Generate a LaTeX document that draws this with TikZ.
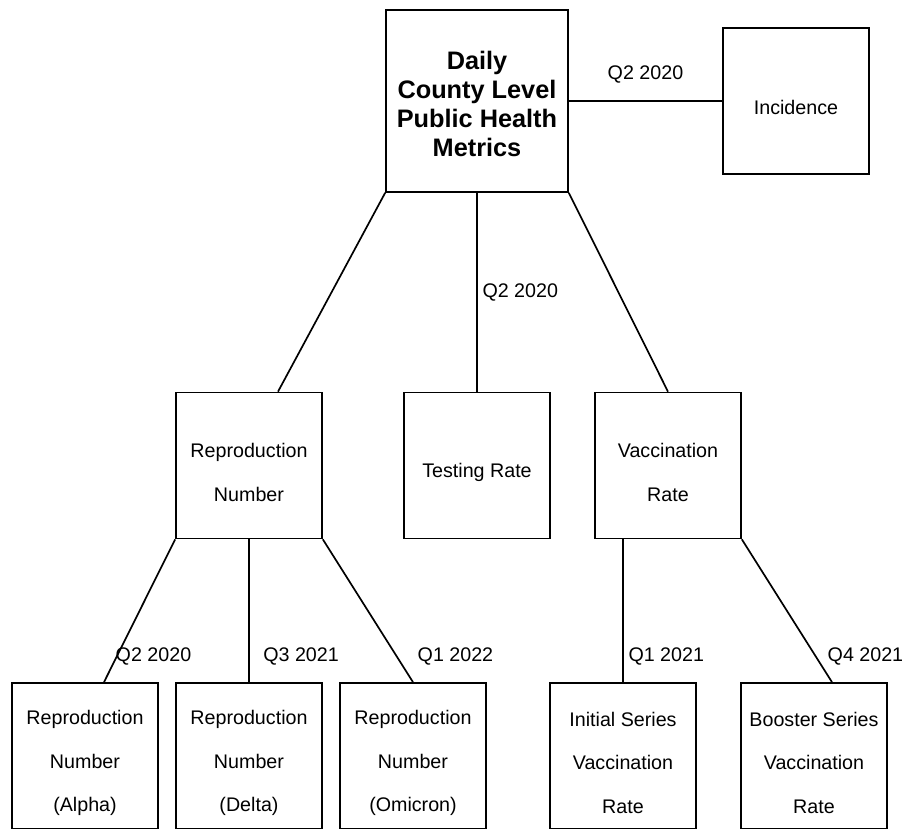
\documentclass[tikz,border=0pt]{standalone}
\usepackage{fontspec}
\setmainfont{Liberation Sans}
\usepackage{tikz}
\usetikzlibrary{positioning}
\newcommand{\lift}{\rule{0pt}{20pt}}
\newcommand{\liftroot}{\rule{0pt}{17pt}}
\tikzstyle{metric} = [rectangle, minimum width=3.65cm, minimum height=3.65cm, align=center, draw=black, line width=1.2pt, font=\fontsize{14}{31}\selectfont]
\tikzstyle{root} = [metric, minimum width=4.55cm, minimum height=4.55cm, font=\bfseries\fontsize{18}{20.5}\selectfont]
\tikzstyle{link} = [line width=1.2pt]
\tikzstyle{quarter} = [font=\fontsize{14}{17}\selectfont]

\begin{document}
\begin{tikzpicture}[node distance=9.1125cm]
        \useasboundingbox (-11.925,2.525) rectangle (10.7,-18.2);

        \node [root] (daily) {\liftroot Daily\\County Level\\Public Health\\Metrics};
        \node [metric, node distance=7.975cm, right of=daily] (inc) {\lift Incidence};

        \node [metric, below of=daily, xshift=-5.7cm] (rep) {\lift Reproduction\\Number};
        \node [metric, below of=daily] (test) {\lift Testing Rate};
        \node [metric, below of=daily, xshift=4.775cm] (vac) {\lift Vaccination\\Rate};

        \node [metric, node distance=7.2625cm, below of=rep, xshift=-4.1cm] (alpha) {\lift Reproduction\\Number\\(Alpha)};
        \node [metric, node distance=7.2625cm, below of=rep] (delta) {\lift Reproduction\\Number\\(Delta)};
        \node [metric, node distance=7.2625cm, below of=rep, xshift=4.1cm] (omicron) {\lift Reproduction\\Number\\(Omicron)};
        \node [metric, node distance=7.2625cm, below of=vac, xshift=-1.125cm] (initial) {\lift Initial Series\\Vaccination\\Rate};
        \node [metric, node distance=7.2625cm, below of=vac, xshift=3.65cm] (booster) {\lift Booster Series\\Vaccination\\Rate};

        \draw [link] (daily.east) -- node[quarter, midway, above=0.3cm] {Q2 2020} (inc.west);
        \draw [link] (daily.south west) -- ([xshift=0.725cm]rep.north);
        \draw [link] (daily.south) -- node[quarter, midway, right] {Q2 2020} (test.north);
        \draw [link] (daily.south east) -- (vac.north);

        \draw [link] (rep.south west) -- node[quarter, pos=0.82, right, xshift=-0.165cm] {Q2 2020} ([xshift=0.475cm]alpha.north);
        \draw [link] (rep.south) -- node[quarter, pos=0.82, right, xshift=0.22cm] {Q3 2021} (delta.north);
        \draw [link] (rep.south east) -- node[quarter, pos=0.82, right, xshift=0.385cm] {Q1 2022} (omicron.north);

        \draw [link] (vac.south -| initial.north) -- node[quarter, pos=0.82, right] {Q1 2021} (initial.north);
        \draw [link] (vac.south east) -- node[quarter, pos=0.82, right, xshift=0.16cm] {Q4 2021} ([xshift=0.45cm]booster.north);
    \end{tikzpicture}
\end{document}
